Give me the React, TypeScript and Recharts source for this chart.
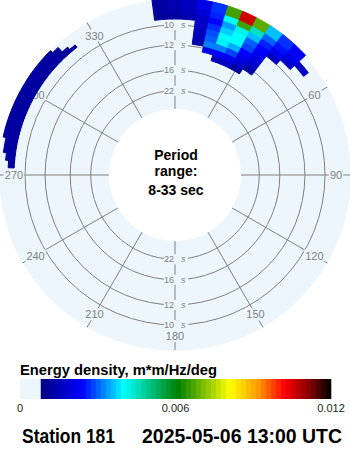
import { PieChart, Pie, Cell, PolarGrid } from "recharts";

// polar layout
const CX = 175;
const CY = 175;
const INNER_R = 66;
const OUTER_R = 176;
const DISK_COLOR = "#eef6fd";
const GRID_COLOR = "#808080";

// radius is linear in frequency: 33 s at the inner edge, 10 s ring at r=150
const F_DOMAIN = [1 / 33, 1 / 10];
const R_RANGE = [66, 150];
const freqToRadius = (f: number) =>
  R_RANGE[0] + ((f - F_DOMAIN[0]) / (F_DOMAIN[1] - F_DOMAIN[0])) * (R_RANGE[1] - R_RANGE[0]);

const GRID_PERIODS = [22, 16, 12, 10];
const SPOKE_DIRS = [0, 30, 60, 90, 120, 150, 180, 210, 240, 270, 300, 330];
const SPOKE_LABELS = ["360", "30", "60", "90", "120", "150", "180", "210", "240", "270", "300", "330"];

// energy density, m*m/Hz/deg
// main swell: 5 deg bins centred on BLOB_DIRS, frequency bands from BLOB_EDGES (Hz)
const BLOB_EDGES = [0.075, 0.08, 0.085, 0.09, 0.095, 0.1, 0.105, 0.11, 0.115, 0.1225];
const BLOB_DIRS = [-5, 0, 5, 10, 15, 20, 25, 30, 35, 40, 45, 50];
const blob075 = [0, 0, 0, 0, 0, 0.0015, 0.0016, 0.0012, 0, 0, 0, 0];
const blob080 = [0, 0, 0, 0, 0.0021, 0.0024, 0.0022, 0.0018, 0.0013, 0, 0, 0];
const blob085 = [0, 0, 0, 0.0013, 0.0032, 0.0032, 0.0028, 0.0021, 0.0017, 0, 0, 0];
const blob090 = [0, 0, 0, 0.0015, 0.003, 0.0039, 0.0035, 0.0024, 0.002, 0, 0, 0];
const blob095 = [0, 0, 0, 0.0016, 0.0029, 0.004, 0.004, 0.0028, 0.0022, 0, 0, 0];
const blob100 = [0, 0, 0, 0.0017, 0.0027, 0.0037, 0.004, 0.003, 0.0024, 0.0016, 0, 0];
const blob105 = [0.0011, 0.0012, 0.0014, 0.0017, 0.0024, 0.0034, 0.0042, 0.0036, 0.0026, 0.0022, 0.0017, 0];
const blob110 = [0.0012, 0.0013, 0.0015, 0.0019, 0.0026, 0.004, 0.0066, 0.0045, 0.003, 0.0025, 0.0021, 0.0017];
const blob115 = [0.0012, 0.0014, 0.0016, 0.0021, 0.0027, 0.0066, 0.0106, 0.0068, 0.0036, 0.0027, 0.0023, 0];
const BLOB_ROWS = [blob075, blob080, blob085, blob090, blob095, blob100, blob105, blob110, blob115];

// northwest sliver: 2.5 deg bins, thin frequency bands
const CRESCENT_EDGES = [0.1091, 0.1116, 0.1141, 0.1166, 0.1191, 0.1216];
const CRESCENT_DIRS = [
  273.75, 276.25, 278.75, 281.25, 283.75, 286.25, 288.75, 291.25, 293.75, 296.25,
  298.75, 301.25, 303.75, 306.25, 308.75, 311.25, 313.75, 316.25, 318.75, 321.25,
];
const crescentA = [
  0.0011, 0.0012, 0.0012, 0.0012, 0.0012, 0.0012, 0.0012, 0.0012, 0.0012, 0.0012,
  0.0012, 0.0012, 0.0012, 0.0012, 0.0012, 0.0012, 0.0012, 0.0012, 0.0012, 0.0011,
];
const crescentB = [
  0.0011, 0.0012, 0.0012, 0.0012, 0.0012, 0.0012, 0.0012, 0.0012, 0.0012, 0.0012,
  0.0012, 0.0012, 0.0012, 0.0012, 0.0012, 0.0012, 0.0012, 0.0012, 0.0011, 0,
];
const crescentC = [
  0, 0.0012, 0.0012, 0.0012, 0.0012, 0.0012, 0.0012, 0.0012, 0.0012, 0.0012,
  0.0012, 0.0012, 0.0012, 0.0012, 0.0012, 0.0012, 0.0012, 0.0011, 0, 0,
];
const crescentD = [
  0, 0, 0.0011, 0.0012, 0.0012, 0.0012, 0.0012, 0.0012, 0.0012, 0.0012,
  0.0012, 0.0012, 0.0012, 0.0012, 0.0012, 0.0012, 0.0012, 0.0011, 0, 0,
];
const crescentE = [
  0, 0, 0, 0, 0.0011, 0.0012, 0.0012, 0.0012, 0.0012, 0.0012,
  0.0012, 0.0012, 0.0012, 0.0012, 0.0012, 0.0012, 0.0011, 0, 0, 0,
];
const CRESCENT_ROWS = [crescentA, crescentB, crescentC, crescentD, crescentE];

// colour scale
const E_MAX = 0.012;
const E_MIN_DRAWN = 0.0008;
const CMAP_STOPS = [0.0008, 0.0024, 0.004, 0.0061, 0.0081, 0.0092, 0.0102, 0.0112, 0.012];
const CMAP_COLORS = ["#000080", "#0000ff", "#00ffff", "#008000", "#ffff00", "#ff9900", "#ff0000", "#800000", "#000000"];
const BAR_TICKS = [0, 0.006, 0.012];
const BAR_TICK_LABELS = ["0", "0.006", "0.012"];

function hexToRgb(h: string) {
  const n = parseInt(h.slice(1), 16);
  return [(n >> 16) & 255, (n >> 8) & 255, n & 255];
}

function colorFor(v: number): string {
  if (v < E_MIN_DRAWN) return "none";
  if (v >= CMAP_STOPS[CMAP_STOPS.length - 1]) return CMAP_COLORS[CMAP_COLORS.length - 1];
  let i = 0;
  while (v > CMAP_STOPS[i + 1]) i++;
  const t = (v - CMAP_STOPS[i]) / (CMAP_STOPS[i + 1] - CMAP_STOPS[i]);
  const a = hexToRgb(CMAP_COLORS[i]);
  const b = hexToRgb(CMAP_COLORS[i + 1]);
  const c = a.map((x, k) => Math.round(x + (b[k] - x) * t));
  return `rgb(${c[0]},${c[1]},${c[2]})`;
}

// compass direction (clockwise from north) -> recharts angle
const toAngle = (dir: number) => 90 - dir;

function polarXY(dir: number, r: number) {
  const a = (dir * Math.PI) / 180;
  return { x: CX + r * Math.sin(a), y: CY - r * Math.cos(a) };
}

function energyRing(key: string, dirs: number[], values: number[], fLo: number, fHi: number) {
  const step = dirs[1] - dirs[0];
  const data = values.map((e, i) => ({ dir: dirs[i], energy: e, span: step }));
  return (
    <Pie
      key={key}
      data={data}
      dataKey="span"
      cx={CX}
      cy={CY}
      innerRadius={freqToRadius(fLo)}
      outerRadius={freqToRadius(fHi)}
      startAngle={toAngle(dirs[0] - step / 2)}
      endAngle={toAngle(dirs[dirs.length - 1] + step / 2)}
      paddingAngle={0}
      isAnimationActive={false}
    >
      {data.map((d, i) => {
        const c = colorFor(d.energy);
        return <Cell key={i} fill={c} stroke={c} strokeWidth={c === "none" ? 0 : 1} />;
      })}
    </Pie>
  );
}

const FONT = "'Liberation Sans', Arial, Helvetica, sans-serif";

function GridLabels() {
  return (
    <g>
      {GRID_PERIODS.map((p) => {
        const r = freqToRadius(1 / p);
        return [CY - r, CY + r].map((y, k) => (
          <g key={`${p}-${k}`}>
            <rect x={CX - 11} y={y - 5} width={24} height={10} fill={DISK_COLOR} />
            <text x={CX - 1} y={y} textAnchor="end" dominantBaseline="central" fontSize={9} fill={GRID_COLOR} fontFamily={FONT}>
              {p}
            </text>
            <text x={CX + 6} y={y} dominantBaseline="central" fontSize={9} fontStyle="italic" fill={GRID_COLOR} fontFamily={FONT}>
              s
            </text>
          </g>
        ));
      })}
      {SPOKE_DIRS.map((d, i) => {
        const { x, y } = polarXY(d, 161);
        const w = SPOKE_LABELS[i].length * 6.2 + 2;
        return (
          <g key={d}>
            <rect x={x - w / 2} y={y - 6} width={w} height={12} fill={DISK_COLOR} />
            <text x={x} y={y} textAnchor="middle" dominantBaseline="central" fontSize={11} fill={GRID_COLOR} fontFamily={FONT}>
              {SPOKE_LABELS[i]}
            </text>
          </g>
        );
      })}
    </g>
  );
}

const BAR_X0 = 20;
const BAR_X1 = 331;
const BAR_Y = 379;
const BAR_H = 20;
const barX = (v: number) => BAR_X0 + (v / E_MAX) * (BAR_X1 - BAR_X0);
const BAR_STEPS = 58;

export default function App() {
  const bands = Array.from({ length: BAR_STEPS }, (_, i) => {
    const v0 = E_MIN_DRAWN + (i / BAR_STEPS) * (E_MAX - E_MIN_DRAWN);
    const v1 = E_MIN_DRAWN + ((i + 1) / BAR_STEPS) * (E_MAX - E_MIN_DRAWN);
    return { x: barX(v0), w: barX(v1) - barX(v0), c: colorFor((v0 + v1) / 2) };
  });

  return (
    <div style={{ position: "absolute", left: 0, top: 0, width: 350, height: 450, background: "#fff", overflow: "hidden" }}>
      <div
        style={{
          position: "absolute",
          left: CX - OUTER_R,
          top: CY - OUTER_R,
          width: OUTER_R * 2,
          height: OUTER_R * 2,
          borderRadius: "50%",
          background: DISK_COLOR,
        }}
      />
      <div
        style={{
          position: "absolute",
          left: CX - INNER_R,
          top: CY - INNER_R,
          width: INNER_R * 2,
          height: INNER_R * 2,
          borderRadius: "50%",
          background: "#fff",
        }}
      />
      <div style={{ position: "absolute", left: 0, top: 0 }}>
        <PieChart width={350} height={350} cx={CX} cy={CY} innerRadius={INNER_R} outerRadius={OUTER_R} margin={{ top: 0, right: 0, bottom: 0, left: 0 }}>
          <PolarGrid
            gridType="circle"
            cx={CX}
            cy={CY}
            innerRadius={INNER_R}
            outerRadius={OUTER_R}
            polarAngles={SPOKE_DIRS.map(toAngle)}
            polarRadius={GRID_PERIODS.map((p) => freqToRadius(1 / p))}
            stroke={GRID_COLOR}
            strokeWidth={1}
          />
          <GridLabels />
          {BLOB_ROWS.map((row, b) => energyRing(`b${b}`, BLOB_DIRS, row, BLOB_EDGES[b], BLOB_EDGES[b + 1]))}
          {CRESCENT_ROWS.map((row, b) => energyRing(`c${b}`, CRESCENT_DIRS, row, CRESCENT_EDGES[b], CRESCENT_EDGES[b + 1]))}
        </PieChart>
      </div>
      <svg width={350} height={450} style={{ position: "absolute", left: 0, top: 0, pointerEvents: "none" }} fontFamily={FONT}>
        <g fontWeight="bold" fontSize={14} textAnchor="middle" fill="#000">
          <text x={CX + 1} y={160}>Period</text>
          <text x={CX + 1} y={176}>range:</text>
          <text x={CX + 1} y={195}>8-33 sec</text>
        </g>
        <text x={20} y={375} fontSize={14} fontWeight="bold" textLength={197} lengthAdjust="spacingAndGlyphs">
          Energy density, m*m/Hz/deg
        </text>
        <rect x={BAR_X0} y={BAR_Y} width={barX(E_MIN_DRAWN) - BAR_X0} height={BAR_H} fill={DISK_COLOR} />
        {bands.map((b, i) => (
          <rect key={i} x={b.x} y={BAR_Y} width={b.w + 0.3} height={BAR_H} fill={b.c} />
        ))}
        {BAR_TICKS.map((t, i) => (
          <text key={t} x={barX(t)} y={412} fontSize={11} textAnchor="middle" fill="#222">
            {BAR_TICK_LABELS[i]}
          </text>
        ))}
        <text x={22} y={443} fontSize={20} fontWeight="bold" textLength={93} lengthAdjust="spacingAndGlyphs">
          Station 181
        </text>
        <text x={142} y={443} fontSize={20} fontWeight="bold" textLength={200} lengthAdjust="spacingAndGlyphs">
          2025-05-06 13:00 UTC
        </text>
      </svg>
    </div>
  );
}
